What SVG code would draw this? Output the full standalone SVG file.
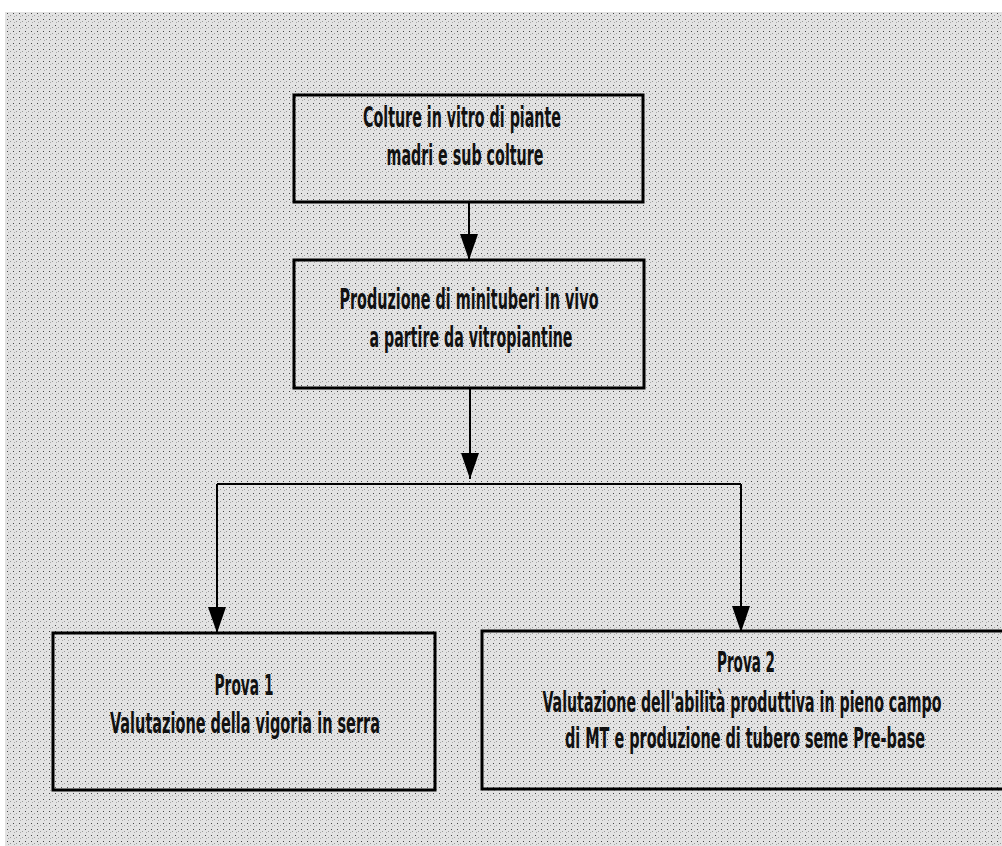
<svg xmlns="http://www.w3.org/2000/svg" width="1002" height="846" viewBox="0 0 1002 846">
<style>
.box{fill:none;stroke:#000;stroke-width:3}
.conn{fill:none;stroke:#000;stroke-width:2}
.t{font-family:"Liberation Sans Narrow","DejaVu Sans Condensed","Liberation Sans",sans-serif;font-weight:bold;font-size:29px;fill:#111;text-anchor:middle}
</style>
<defs>
<marker id="ah" markerWidth="26" markerHeight="18" refX="26" refY="9" orient="auto" markerUnits="userSpaceOnUse" viewBox="0 0 26 18">
<path d="M0,0 L26,9 L0,18 Z" fill="#000"/>
</marker>
<pattern id="stip" width="6" height="6" patternUnits="userSpaceOnUse">
<rect width="6" height="6" fill="#e2e2e2"/>
<rect x="1" y="1" width="1" height="1" fill="#444"/>
<rect x="4" y="3" width="1" height="1" fill="#999"/>
<rect x="2" y="4" width="1" height="1" fill="#aaa"/>
</pattern>
</defs>
<rect width="1002" height="846" fill="#fff"/>
<rect x="5" y="12" width="997" height="834" fill="url(#stip)"/>
<g id="connectors">
<path class="conn" d="M469,203 L469,260" marker-end="url(#ah)"/>
<path class="conn" d="M470,388 L470,479" marker-end="url(#ah)"/>
<path class="conn" d="M217,484 L741,484"/>
<path class="conn" d="M217,484 L217,633" marker-end="url(#ah)"/>
<path class="conn" d="M741,484 L741,632" marker-end="url(#ah)"/>
</g>
<g id="node1">
<rect class="box" x="294" y="95" width="349" height="107"/>
<text class="t" x="462" y="127" textLength="198" lengthAdjust="spacingAndGlyphs">Colture in vitro di piante</text>
<text class="t" x="465" y="165" textLength="157" lengthAdjust="spacingAndGlyphs">madri e sub colture</text>
</g>
<g id="node2">
<rect class="box" x="294" y="260" width="350" height="128"/>
<text class="t" x="469" y="309" textLength="259" lengthAdjust="spacingAndGlyphs">Produzione di minituberi in vivo</text>
<text class="t" x="471" y="347" textLength="203" lengthAdjust="spacingAndGlyphs">a partire da vitropiantine</text>
</g>
<g id="node3">
<rect class="box" x="53" y="633" width="382" height="157"/>
<text class="t" x="244" y="695" textLength="59" lengthAdjust="spacingAndGlyphs">Prova 1</text>
<text class="t" x="245" y="733" textLength="270" lengthAdjust="spacingAndGlyphs">Valutazione della vigoria in serra</text>
</g>
<g id="node4">
<rect class="box" x="482" y="631" width="524" height="158"/>
<text class="t" x="746" y="672" textLength="58" lengthAdjust="spacingAndGlyphs">Prova 2</text>
<text class="t" x="742" y="712" textLength="399" lengthAdjust="spacingAndGlyphs">Valutazione dell'abilità produttiva in pieno campo</text>
<text class="t" x="745" y="748" textLength="360" lengthAdjust="spacingAndGlyphs">di MT e produzione di tubero seme Pre-base</text>
</g>
</svg>
